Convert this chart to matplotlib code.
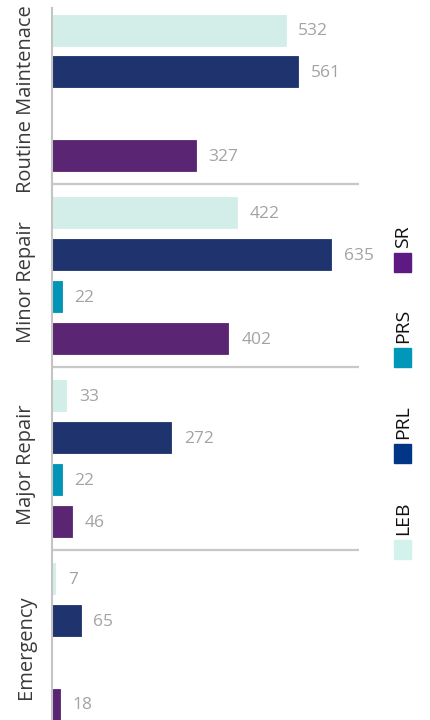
import numpy as np
import matplotlib.pyplot as plt
from matplotlib.patches import Rectangle

plt.rcParams['font.family'] = ['Open Sans', 'DejaVu Sans']

categories = ['Routine Maintenace', 'Minor Repair', 'Major Repair', 'Emergency']
series = ['LEB', 'PRL', 'PRS', 'SR']
colors = ['#d3eee8', '#1f346e', '#0095b6', '#5a2572']
legend_colors = ['#d3f2ec', '#003685', '#0097b9', '#5c1a82']

leb = [532, 422, 33, 7]
prl = [561, 635, 272, 65]
prs = [None, 22, 22, None]
sr = [327, 402, 46, 18]
values = [leb, prl, prs, sr]

group_step = 4.37
bar_h = 0.74

fig = plt.figure(figsize=(4.3, 7.2), dpi=100)
ax = fig.add_axes([52 / 430, 0, 378 / 430, 1])

for s, (name, vals, col) in enumerate(zip(series, values, colors)):
    for g, v in enumerate(vals):
        if v is None:
            continue
        y = g * group_step + s
        ax.barh(y, v, height=bar_h, color=col, edgecolor=col, linewidth=0.6)
        ax.text(v + 29, y + 0.03, str(v), va='center', ha='left',
                fontsize=12.5, color='#a3a3a3')

# separators between groups
for g in range(len(categories) - 1):
    ys = g * group_step + 3 + (group_step - 3) / 2
    ax.plot([0, 700], [ys, ys], color='#c8c8c8', lw=1.6, solid_capstyle='butt')

# category labels
for g, cat in enumerate(categories):
    ax.text(-26 / 378, g * group_step + 1.5 + 0.15, cat, rotation=90,
            ha='center', va='center', fontsize=14.5, color='#3a3a3a',
            transform=ax.get_yaxis_transform())

ax.set_xlim(0, 861)
ax.set_ylim(16.49, -0.72)
for sp in ['top', 'right', 'bottom']:
    ax.spines[sp].set_visible(False)
ax.spines['left'].set_color('#c4c4c4')
ax.spines['left'].set_linewidth(1.5)
ax.spines['left'].set_bounds(-0.52, 16.49)
ax.set_xticks([])
ax.set_yticks([])

# legend (rotated), drawn in figure pixels
W, H = 430, 720
leg_y = [549.5, 453.5, 357.5, 262.5]
for name, col, yc in zip(series, legend_colors, leg_y):
    fig.patches.append(Rectangle(((394) / W, 1 - (yc + 9.5) / H), 17 / W, 19 / H,
                                 transform=fig.transFigure, color=col))
    fig.text(403 / W, 1 - (yc - 14.5) / H, name, rotation=90, ha='center',
             va='bottom', fontsize=14, color='#111111')

fig.savefig('out.png', dpi=100)
